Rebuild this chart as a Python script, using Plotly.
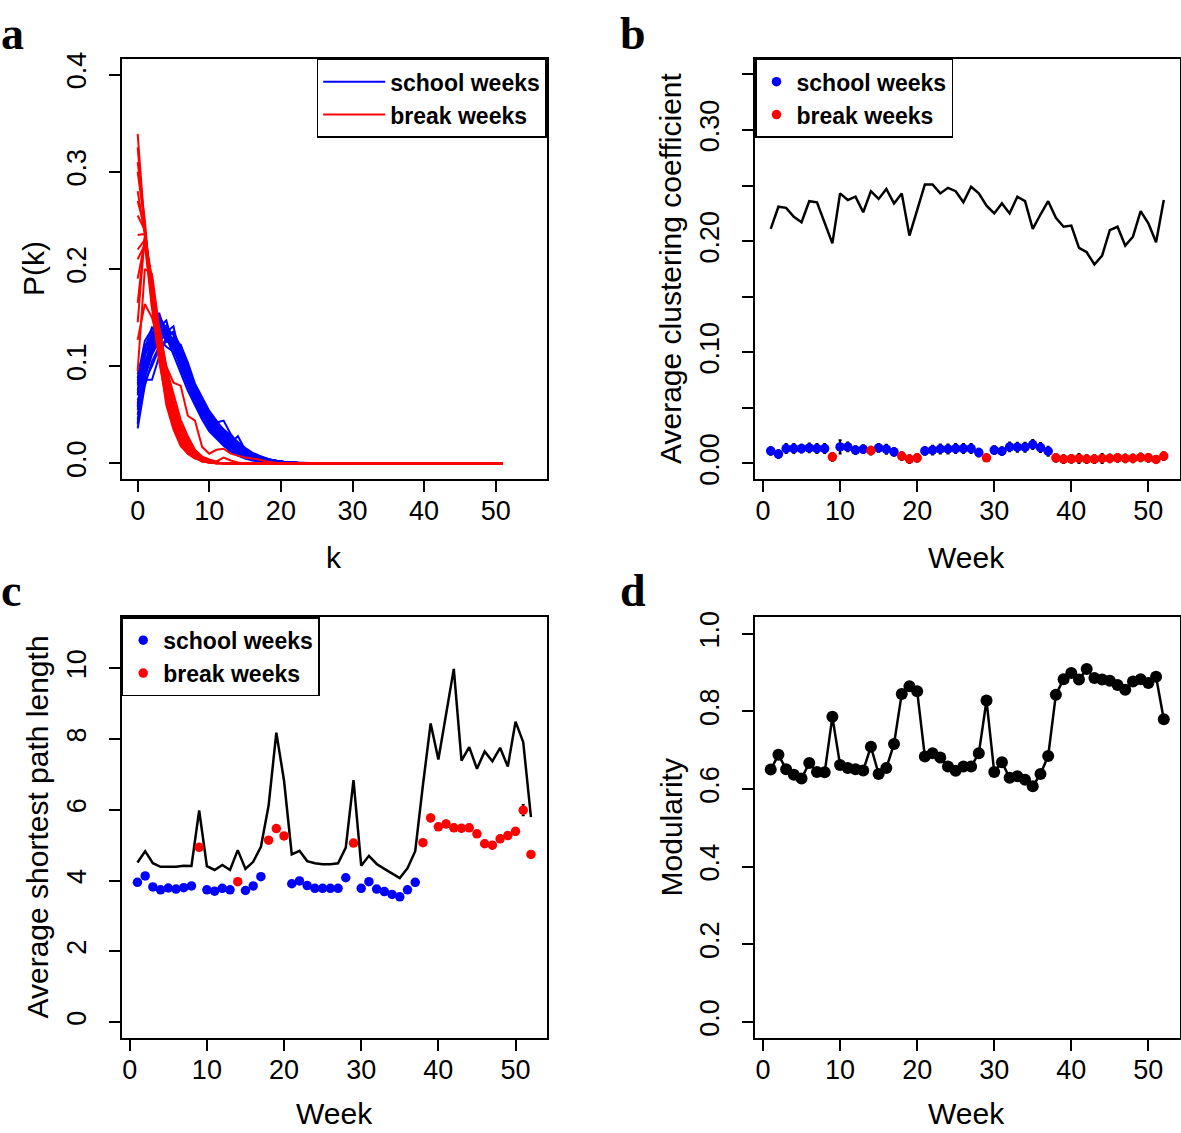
import plotly.graph_objects as go

# ---------------- data ----------------
weeks = list(range(1, 53))
break_weeks = [9, 14, 18, 19, 20, 29, 38, 39, 40, 41, 42, 43, 44, 45, 46, 47, 48, 49, 50, 51, 52]

# panel a: degree distributions P(k) (representative weekly curves)
school_pk = [
    [0.085, 0.120, 0.130, 0.148, 0.135, 0.125, 0.100, 0.082, 0.065, 0.050, 0.038, 0.028, 0.020, 0.014, 0.010, 0.007, 0.005, 0.003, 0.002, 0.001, 0.001],
    [0.070, 0.110, 0.135, 0.140, 0.147, 0.120, 0.110, 0.090, 0.070, 0.052, 0.040, 0.030, 0.022, 0.016, 0.012, 0.008, 0.005, 0.004, 0.002, 0.001, 0.001, 0.0005],
    [0.060, 0.100, 0.125, 0.155, 0.130, 0.128, 0.105, 0.088, 0.072, 0.060, 0.045, 0.032, 0.024, 0.018, 0.012, 0.008, 0.006, 0.004, 0.003, 0.002, 0.001],
    [0.050, 0.095, 0.120, 0.130, 0.140, 0.132, 0.118, 0.095, 0.078, 0.062, 0.050, 0.038, 0.028, 0.020, 0.015, 0.010, 0.007, 0.005, 0.003, 0.002, 0.001],
    [0.036, 0.080, 0.105, 0.120, 0.125, 0.130, 0.120, 0.100, 0.080, 0.066, 0.052, 0.042, 0.044, 0.030, 0.020, 0.015, 0.010, 0.007, 0.004, 0.003, 0.002, 0.001],
    [0.088, 0.126, 0.138, 0.145, 0.130, 0.112, 0.095, 0.075, 0.060, 0.045, 0.033, 0.025, 0.018, 0.012, 0.008, 0.005, 0.003, 0.002, 0.001],
    [0.065, 0.086, 0.086, 0.110, 0.130, 0.135, 0.120, 0.098, 0.080, 0.064, 0.050, 0.040, 0.032, 0.024, 0.018, 0.012, 0.008, 0.005, 0.003, 0.002, 0.001],
    [0.045, 0.090, 0.115, 0.128, 0.138, 0.125, 0.122, 0.098, 0.078, 0.063, 0.053, 0.042, 0.035, 0.028, 0.022, 0.016, 0.011, 0.008, 0.005, 0.003, 0.002, 0.001, 0.001, 0.0005],
    [0.075, 0.115, 0.128, 0.135, 0.142, 0.118, 0.112, 0.092, 0.068, 0.058, 0.042, 0.032, 0.025, 0.018, 0.012, 0.008, 0.006, 0.004, 0.003, 0.002, 0.001],
    [0.055, 0.098, 0.132, 0.150, 0.135, 0.141, 0.108, 0.096, 0.076, 0.062, 0.048, 0.035, 0.026, 0.020, 0.014, 0.010, 0.007, 0.005, 0.003, 0.002, 0.001, 0.001],
    [0.080, 0.105, 0.118, 0.128, 0.120, 0.115, 0.104, 0.090, 0.080, 0.066, 0.052, 0.040, 0.030, 0.022, 0.016, 0.012, 0.008, 0.006, 0.004, 0.003, 0.002, 0.001, 0.001],
    [0.042, 0.088, 0.112, 0.126, 0.132, 0.128, 0.116, 0.100, 0.078, 0.064, 0.050, 0.040, 0.030, 0.022, 0.017, 0.012, 0.009, 0.006, 0.004, 0.003, 0.002, 0.001],
    [0.092, 0.118, 0.140, 0.135, 0.128, 0.118, 0.098, 0.080, 0.062, 0.048, 0.036, 0.027, 0.019, 0.013, 0.009, 0.006, 0.004, 0.003, 0.002, 0.001],
    [0.058, 0.104, 0.122, 0.138, 0.128, 0.136, 0.112, 0.098, 0.074, 0.060, 0.047, 0.036, 0.027, 0.021, 0.028, 0.014, 0.009, 0.006, 0.004, 0.003, 0.002, 0.001, 0.001],
    [0.040, 0.085, 0.100, 0.118, 0.128, 0.124, 0.122, 0.104, 0.082, 0.068, 0.054, 0.044, 0.034, 0.026, 0.019, 0.014, 0.010, 0.007, 0.005, 0.003, 0.002, 0.001, 0.001],
    [0.072, 0.112, 0.128, 0.142, 0.126, 0.122, 0.104, 0.085, 0.070, 0.054, 0.044, 0.030, 0.024, 0.017, 0.012, 0.009, 0.006, 0.004, 0.002, 0.001],
    [0.062, 0.094, 0.118, 0.132, 0.135, 0.120, 0.115, 0.094, 0.080, 0.060, 0.050, 0.037, 0.029, 0.021, 0.016, 0.011, 0.008, 0.005, 0.004, 0.002, 0.001, 0.001],
    [0.082, 0.122, 0.126, 0.152, 0.138, 0.118, 0.102, 0.088, 0.066, 0.053, 0.041, 0.031, 0.022, 0.017, 0.011, 0.008, 0.005, 0.003, 0.002, 0.001],
]
break_pk = [
    [0.339, 0.240, 0.175, 0.110, 0.060, 0.035, 0.018, 0.010, 0.005, 0.003, 0.001, 0.001],
    [0.310, 0.250, 0.165, 0.120, 0.070, 0.038, 0.020, 0.010, 0.006, 0.003, 0.001],
    [0.280, 0.235, 0.180, 0.115, 0.075, 0.045, 0.025, 0.012, 0.006, 0.002, 0.001],
    [0.255, 0.240, 0.170, 0.125, 0.080, 0.050, 0.028, 0.015, 0.008, 0.004, 0.002, 0.001],
    [0.220, 0.230, 0.185, 0.130, 0.085, 0.055, 0.030, 0.018, 0.010, 0.005, 0.002, 0.001],
    [0.190, 0.228, 0.175, 0.128, 0.090, 0.058, 0.035, 0.020, 0.010, 0.006, 0.003, 0.001],
    [0.145, 0.235, 0.190, 0.135, 0.095, 0.060, 0.038, 0.022, 0.012, 0.006, 0.003, 0.001],
    [0.127, 0.164, 0.150, 0.122, 0.100, 0.083, 0.080, 0.049, 0.044, 0.017, 0.010, 0.014, 0.015, 0.010, 0.008, 0.006, 0.005, 0.004, 0.002, 0.001],
    [0.095, 0.200, 0.195, 0.140, 0.100, 0.065, 0.040, 0.025, 0.012, 0.006, 0.003, 0.001],
    [0.300, 0.245, 0.160, 0.105, 0.065, 0.040, 0.022, 0.012, 0.006, 0.003, 0.001],
    [0.325, 0.238, 0.170, 0.112, 0.068, 0.038, 0.022, 0.011, 0.006, 0.002, 0.001],
    [0.270, 0.242, 0.178, 0.118, 0.072, 0.042, 0.024, 0.013, 0.007, 0.003, 0.001],
    [0.235, 0.236, 0.182, 0.126, 0.082, 0.052, 0.030, 0.016, 0.009, 0.004, 0.002, 0.001],
    [0.165, 0.232, 0.188, 0.132, 0.092, 0.058, 0.036, 0.021, 0.011, 0.005, 0.003, 0.001],
    [0.210, 0.225, 0.160, 0.140, 0.098, 0.070, 0.045, 0.028, 0.014, 0.007, 0.004, 0.002, 0.006, 0.003, 0.001],
]
school_kmax = 28
break_kmax = 51

# panel b: average clustering coefficient
clust_obs = [0.0113, 0.0084, 0.0134, 0.0134, 0.0134, 0.0140, 0.0134, 0.0134, 0.0060, 0.0149,
             0.0149, 0.0120, 0.0128, 0.0116, 0.0140, 0.0128, 0.0104, 0.0066, 0.0039, 0.0051,
             0.0113, 0.0120, 0.0130, 0.0130, 0.0134, 0.0134, 0.0134, 0.0098, 0.0051, 0.0120,
             0.0110, 0.0149, 0.0146, 0.0146, 0.0170, 0.0143, 0.0110, 0.0051, 0.0039, 0.0042,
             0.0045, 0.0039, 0.0039, 0.0045, 0.0045, 0.0051, 0.0045, 0.0045, 0.0054, 0.0051,
             0.0036, 0.0066]
clust_err = [0.0035, 0.0035, 0.0040, 0.0040, 0.0035, 0.0040, 0.0040, 0.0040, 0.0035, 0.0060,
             0.0040, 0.0035, 0.0035, 0.0035, 0.0035, 0.0040, 0.0035, 0.0035, 0.0035, 0.0035,
             0.0035, 0.0040, 0.0040, 0.0040, 0.0040, 0.0040, 0.0040, 0.0035, 0.0030, 0.0035,
             0.0035, 0.0040, 0.0040, 0.0040, 0.0040, 0.0040, 0.0040, 0.0035, 0.0035, 0.0035,
             0.0040, 0.0035, 0.0035, 0.0040, 0.0035, 0.0035, 0.0035, 0.0035, 0.0035, 0.0035,
             0.0030, 0.0035]
clust_ref = [0.211, 0.231, 0.230, 0.222, 0.217, 0.236, 0.235, 0.217, 0.198, 0.243,
             0.237, 0.240, 0.226, 0.245, 0.238, 0.247, 0.234, 0.243, 0.205, 0.228,
             0.251, 0.251, 0.243, 0.248, 0.245, 0.235, 0.249, 0.243, 0.232, 0.225,
             0.234, 0.225, 0.240, 0.236, 0.211, 0.224, 0.236, 0.221, 0.213, 0.214,
             0.194, 0.190, 0.179, 0.187, 0.210, 0.213, 0.196, 0.204, 0.227, 0.216,
             0.199, 0.237]

# panel c: average shortest path length
path_obs = [3.95, 4.13, 3.82, 3.74, 3.79, 3.76, 3.80, 3.85, 4.94, 3.74,
            3.70, 3.78, 3.74, 3.97, 3.72, 3.85, 4.11, 5.14, 5.47, 5.26,
            3.91, 3.99, 3.86, 3.78, 3.78, 3.78, 3.78, 4.08, 5.06, 3.78,
            3.97, 3.76, 3.69, 3.61, 3.54, 3.74, 3.95, 5.07, 5.77, 5.52,
            5.60, 5.49, 5.48, 5.49, 5.32, 5.04, 5.00, 5.18, 5.27, 5.39,
            5.99, 4.74]
path_err = [0.06, 0.06, 0.06, 0.06, 0.06, 0.06, 0.06, 0.06, 0.08, 0.06,
            0.06, 0.06, 0.06, 0.08, 0.06, 0.06, 0.06, 0.08, 0.10, 0.08,
            0.06, 0.06, 0.06, 0.06, 0.06, 0.06, 0.06, 0.06, 0.08, 0.06,
            0.06, 0.06, 0.06, 0.06, 0.06, 0.06, 0.06, 0.08, 0.10, 0.10,
            0.10, 0.10, 0.10, 0.10, 0.08, 0.10, 0.10, 0.10, 0.10, 0.10,
            0.15, 0.08]
path_ref = [4.51, 4.83, 4.49, 4.39, 4.39, 4.39, 4.42, 4.41, 5.98, 4.41,
            4.30, 4.44, 4.30, 4.86, 4.33, 4.53, 4.95, 6.12, 8.18, 6.82,
            4.74, 4.84, 4.55, 4.49, 4.46, 4.46, 4.49, 4.93, 6.84, 4.42,
            4.70, 4.47, 4.33, 4.19, 4.07, 4.35, 4.83, 6.70, 8.44, 7.42,
            8.70, 9.98, 7.39, 7.77, 7.16, 7.65, 7.37, 7.75, 7.22, 8.49,
            7.91, 5.79]

# panel d: modularity
modularity = [0.650, 0.688, 0.651, 0.637, 0.627, 0.667, 0.644, 0.643, 0.786, 0.662,
              0.654, 0.651, 0.648, 0.709, 0.639, 0.654, 0.716, 0.845, 0.865, 0.852,
              0.684, 0.692, 0.681, 0.658, 0.647, 0.658, 0.658, 0.692, 0.828, 0.644,
              0.669, 0.629, 0.633, 0.624, 0.607, 0.639, 0.685, 0.843, 0.883, 0.899,
              0.882, 0.909, 0.886, 0.882, 0.879, 0.868, 0.856, 0.877, 0.883, 0.873,
              0.889, 0.780]

# ---------------- figure ----------------
W, H = 1181, 1133
BLUE, RED = "#0000FF", "#FF0000"
SANS = "Liberation Sans"


def px_x(p):
    return p / W


def px_y(p):
    return 1 - p / H


fig = go.Figure()

# panel a
for i, curve in enumerate(school_pk):
    ys = curve + [0.0] * (school_kmax + 1 - len(curve))
    fig.add_trace(go.Scatter(x=list(range(len(ys))), y=ys, mode="lines",
                             line=dict(color=BLUE, width=2), name="school weeks",
                             legendgroup="a_s", showlegend=(i == 0), legend="legend",
                             xaxis="x", yaxis="y"))
for i, curve in enumerate(break_pk):
    ys = curve + [0.0] * (break_kmax + 1 - len(curve))
    fig.add_trace(go.Scatter(x=list(range(len(ys))), y=ys, mode="lines",
                             line=dict(color=RED, width=2), name="break weeks",
                             legendgroup="a_b", showlegend=(i == 0), legend="legend",
                             xaxis="x", yaxis="y"))


def split(vals, errs):
    s = [(w, v, e) for w, v, e in zip(weeks, vals, errs) if w not in break_weeks]
    b = [(w, v, e) for w, v, e in zip(weeks, vals, errs) if w in break_weeks]
    return s, b


# panel b
fig.add_trace(go.Scatter(x=weeks, y=clust_ref, mode="lines", line=dict(color="black", width=2.5),
                         showlegend=False, xaxis="x2", yaxis="y2"))
s, b = split(clust_obs, clust_err)
for grp, col, nm in [(s, BLUE, "school weeks"), (b, RED, "break weeks")]:
    fig.add_trace(go.Scatter(x=[g[0] for g in grp], y=[g[1] for g in grp], mode="markers",
                             marker=dict(color=col, size=9.5),
                             error_y=dict(type="data", array=[g[2] for g in grp], color="black",
                                          thickness=2, width=1.5),
                             name=nm, legend="legend2", xaxis="x2", yaxis="y2"))

# panel c
fig.add_trace(go.Scatter(x=weeks, y=path_ref, mode="lines", line=dict(color="black", width=2.5),
                         showlegend=False, xaxis="x3", yaxis="y3"))
s, b = split(path_obs, path_err)
for grp, col, nm in [(s, BLUE, "school weeks"), (b, RED, "break weeks")]:
    fig.add_trace(go.Scatter(x=[g[0] for g in grp], y=[g[1] for g in grp], mode="markers",
                             marker=dict(color=col, size=9.5),
                             error_y=dict(type="data", array=[g[2] for g in grp], color="black",
                                          thickness=1.5, width=1.5),
                             name=nm, legend="legend3", xaxis="x3", yaxis="y3"))

# panel d
fig.add_trace(go.Scatter(x=weeks, y=modularity, mode="lines+markers",
                         line=dict(color="black", width=2.5), marker=dict(color="black", size=12),
                         showlegend=False, xaxis="x4", yaxis="y4"))

# ---------------- axes ----------------
tickfont = dict(family=SANS, size=27, color="black")
common = dict(showline=True, mirror=True, linecolor="black", linewidth=1.6,
              ticks="outside", ticklen=11, tickwidth=1.6, tickcolor="black",
              showgrid=False, zeroline=False, tickfont=tickfont)
xcommon = dict(common, ticklabelstandoff=-4)
ycommon = dict(common, tickangle=-90, ticklabelstandoff=12)

left_dom = [px_x(121.7), px_x(546.7)]
right_dom = [px_x(755.0), px_x(1179.5)]
top_dom = [px_y(477.7), px_y(52.3)]
bot_dom = [px_y(1042.7), px_y(617.3)]

fig.update_layout(
    xaxis=dict(xcommon, domain=left_dom, anchor="y", range=[-2.23, 57.12], tick0=0, dtick=10),
    yaxis=dict(ycommon, domain=top_dom, anchor="x", range=[-0.0163, 0.4163], tick0=0, dtick=0.1,
               tickformat=".1f"),
    xaxis2=dict(xcommon, domain=right_dom, anchor="y2", range=[-1.04, 54.04], tick0=0, dtick=10),
    yaxis2=dict(ycommon, domain=top_dom, anchor="x2", range=[-0.0142, 0.3642], tick0=0, dtick=0.1,
                tickformat=".2f",
                minor=dict(tick0=0, dtick=0.05, ticks="outside", ticklen=11, tickwidth=1.6,
                           tickcolor="black", showgrid=False)),
    xaxis3=dict(xcommon, domain=left_dom, anchor="y3", range=[-1.04, 54.04], tick0=0, dtick=10),
    yaxis3=dict(ycommon, domain=bot_dom, anchor="x3", range=[-0.44, 11.44], tick0=0, dtick=2),
    xaxis4=dict(xcommon, domain=right_dom, anchor="y4", range=[-1.04, 54.04], tick0=0, dtick=10),
    yaxis4=dict(ycommon, domain=bot_dom, anchor="x4", range=[-0.0407, 1.0426], tick0=0, dtick=0.2,
                tickformat=".1f"),
)

# ---------------- legends ----------------
legfont = dict(family=SANS, size=23, color="black", weight="bold")
legcommon = dict(font=legfont, bordercolor="black", borderwidth=1.5, bgcolor="white",
                 tracegroupgap=0, traceorder="normal")
fig.update_layout(
    legend=dict(legcommon, x=px_x(546.7), xanchor="right", y=px_y(52.3), yanchor="top",
                itemwidth=62),
    legend2=dict(legcommon, x=px_x(755.0), xanchor="left", y=px_y(52.3), yanchor="top"),
    legend3=dict(legcommon, x=px_x(121.7), xanchor="left", y=px_y(617.3), yanchor="top"),
)

# ---------------- titles & panel letters ----------------
annots = []
titlefont = dict(family=SANS, size=30, color="black")
for txt, cx, cy, ang in [
    ("P(k)", 34, 265, -90), ("k", 334, 557, 0),
    ("Average clustering coefficient", 671, 265, -90), ("Week", 967, 557, 0),
    ("Average shortest path length", 37, 830, -90), ("Week", 334, 1119, 0),
    ("Modularity", 671, 830, -90), ("Week", 967, 1119, 0),
]:
    annots.append(dict(text=txt, x=px_x(cx), y=px_y(cy), xref="paper", yref="paper",
                       xanchor="center", yanchor="middle", textangle=ang, showarrow=False,
                       font=titlefont))
letterfont = dict(family="Liberation Serif", size=46, color="black", weight="bold")
for txt, lx, top in [("a", 0, 0), ("b", 619, 0), ("c", 0, 563), ("d", 619, 563)]:
    annots.append(dict(text=txt, x=px_x(lx), y=px_y(top), xref="paper", yref="paper",
                       xanchor="left", yanchor="top", showarrow=False, borderpad=0,
                       font=letterfont))

fig.update_layout(annotations=annots, width=W, height=H,
                  margin=dict(l=0, r=0, t=0, b=0), plot_bgcolor="white", paper_bgcolor="white")

fig.write_html("out.html", config={"displayModeBar": False},
               post_script="document.body.style.margin='0';document.body.style.padding='0';")
